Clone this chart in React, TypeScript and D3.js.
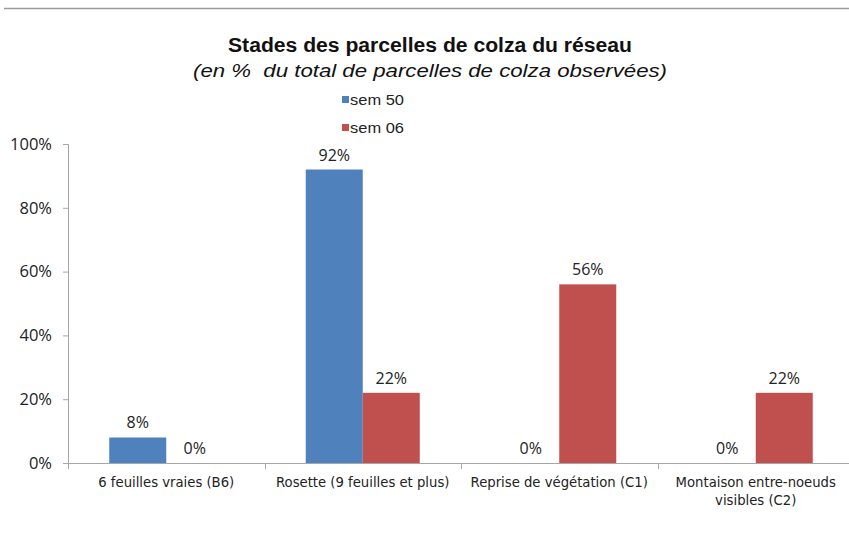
import { useEffect, useRef } from 'react';
import * as d3 from 'd3';

const categories = [
  ['6 feuilles vraies (B6)'],
  ['Rosette (9 feuilles et plus)'],
  ['Reprise de végétation (C1)'],
  ['Montaison entre-noeuds', 'visibles (C2)'],
];
const seriesNames = ['sem 50', 'sem 06'];
const sem50 = [0.08, 0.92, 0, 0];
const sem06 = [0, 0.22, 0.56, 0.22];
const yTicks = [0, 0.2, 0.4, 0.6, 0.8, 1];
const colors = ['#4F81BD', '#C0504D'];

const narrow = `'DejaVu Sans Condensed', 'Liberation Sans', sans-serif`;
const arial = `'Liberation Sans', Arial, sans-serif`;
const label = `'Open Sans', 'Noto Sans', sans-serif`;

const App = () => {
  const ref = useRef<SVGSVGElement>(null);

  useEffect(() => {
    const svg = d3.select(ref.current);
    svg.selectAll('*').remove();

    const left = 68, axisY = 463, top = 144, bandW = 196.5;
    const x = d3.scaleBand<number>()
      .domain(categories.map((_, i) => i))
      .range([left, left + bandW * categories.length])
      .paddingInner(0)
      .paddingOuter(0);
    const sub = d3.scaleBand<number>()
      .domain([0, 1])
      .range([x.bandwidth() / 2 - 57, x.bandwidth() / 2 + 57]);
    const y = d3.scaleLinear().domain([0, 1]).range([axisY, top]);

    // top rule
    svg.append('line')
      .attr('x1', 4).attr('x2', 849).attr('y1', 8.5).attr('y2', 8.5)
      .attr('stroke', '#9a9a9a').attr('stroke-width', 1.5);

    svg.append('text')
      .attr('x', 430).attr('y', 52)
      .attr('text-anchor', 'middle')
      .attr('textLength', 404)
      .attr('lengthAdjust', 'spacingAndGlyphs')
      .style('font-family', arial)
      .style('font-weight', 'bold')
      .style('font-size', '20px')
      .attr('fill', '#111')
      .text('Stades des parcelles de colza du réseau');

    svg.append('text')
      .attr('x', 430).attr('y', 77)
      .attr('text-anchor', 'middle')
      .attr('textLength', 474)
      .attr('lengthAdjust', 'spacingAndGlyphs')
      .style('font-family', arial)
      .style('font-style', 'italic')
      .style('font-size', '19px')
      .attr('fill', '#111')
      .text('(en %\u00A0 du total de parcelles de colza observées)');

    // legend
    seriesNames.forEach((name, i) => {
      const ly = 100 + i * 28;
      svg.append('rect')
        .attr('x', 342).attr('y', ly - 4).attr('width', 7).attr('height', 7)
        .attr('fill', colors[i]);
      svg.append('text')
        .attr('x', 350).attr('y', ly + 4.5)
        .attr('textLength', 54)
        .attr('lengthAdjust', 'spacingAndGlyphs')
        .style('font-family', arial)
        .style('font-size', '15px')
        .attr('fill', '#222')
        .text(name);
    });

    // y axis
    const yAxis = svg.append('g')
      .attr('transform', `translate(${left},0)`)
      .call(d3.axisLeft(y).tickValues(yTicks).tickFormat(d3.format('.0%')).tickSize(5).tickPadding(11));
    yAxis.select('.domain').attr('stroke', '#a6a6a6');
    yAxis.selectAll('line').attr('stroke', '#a6a6a6');
    yAxis.selectAll('text')
      .style('font-family', label)
      .style('font-size', '16.5px')
      .attr('fill', '#222');

    // bars
    const allSeries = [sem50, sem06];
    allSeries.forEach((vals, s) => {
      const g = svg.append('g');
      g.selectAll('rect')
        .data(vals)
        .enter()
        .append('rect')
        .attr('x', (_, i) => (x(i) as number) + (sub(s) as number))
        .attr('width', sub.bandwidth())
        .attr('y', d => y(d))
        .attr('height', d => axisY - y(d))
        .attr('fill', colors[s]);
      g.selectAll('text')
        .data(vals)
        .enter()
        .append('text')
        .attr('x', (_, i) => (x(i) as number) + (sub(s) as number) + sub.bandwidth() / 2)
        .attr('y', d => y(d) - 9)
        .attr('text-anchor', 'middle')
        .style('font-family', label)
        .style('font-size', '16px')
        .attr('fill', '#222')
        .text(d => d3.format('.0%')(d));
    });

    // x axis
    const xg = svg.append('g');
    xg.append('line')
      .attr('x1', left).attr('x2', 849)
      .attr('y1', axisY + 0.5).attr('y2', axisY + 0.5)
      .attr('stroke', '#a6a6a6');
    categories.forEach((_, i) => {
      const tx = Math.round((x(i) as number)) + 0.5;
      xg.append('line')
        .attr('x1', tx).attr('x2', tx)
        .attr('y1', axisY).attr('y2', axisY + 6)
        .attr('stroke', '#a6a6a6');
    });
    xg.selectAll('text.cat')
      .data(categories)
      .enter()
      .append('text')
      .attr('class', 'cat')
      .attr('x', (_, i) => (x(i) as number) + x.bandwidth() / 2)
      .attr('y', 487)
      .attr('text-anchor', 'middle')
      .style('font-family', narrow)
      .style('font-size', '14.7px')
      .attr('fill', '#222')
      .each(function (lines) {
        const t = d3.select(this);
        lines.forEach((ln, k) => {
          t.append('tspan')
            .attr('x', t.attr('x'))
            .attr('dy', k === 0 ? 0 : 18)
            .text(ln);
        });
      });
  }, []);

  return (
    <svg
      ref={ref}
      width={849}
      height={537}
      style={{ position: 'absolute', left: 0, top: 0, background: '#fff' }}
    />
  );
};

export default App;
